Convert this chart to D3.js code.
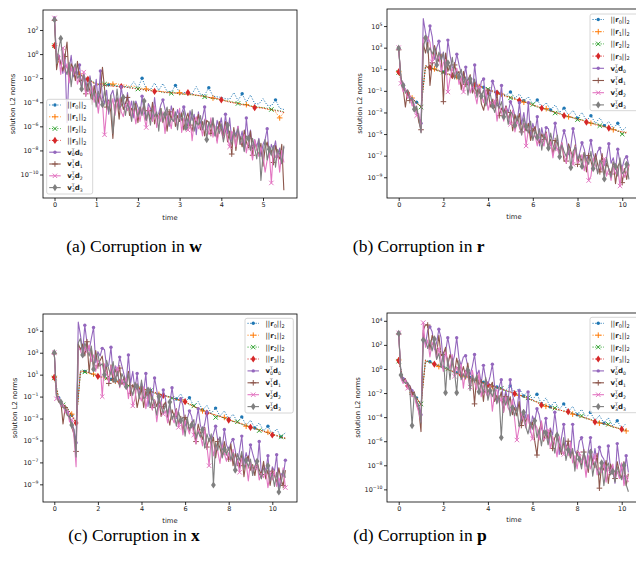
<!DOCTYPE html>
<html><head><meta charset="utf-8">
<script src="https://cdn.jsdelivr.net/npm/d3@7"></script>
<style>body{margin:0;background:#fff}svg{display:block}text{white-space:pre}</style>
</head><body>
<svg id="chart" width="636" height="565"></svg>
<script>
// ===== DATA (values are log10 of the L2 norm) =====
const captions = [["(a) Corruption in ", "w"], ["(b) Corruption in ", "r"], ["(c) Corruption in ", "x"], ["(d) Corruption in ", "p"]];
const yLabel = "solution L2 norms";
const xLabel = "time";
const seriesNames = ["r0", "r1", "r2", "r3", "v0d0", "v1d1", "v2d2", "v3d3"];

// time step of the samples in each panel (residual series / vTd series)
const a_dtR = 0.1, a_dtV = 0.05;
const b_dtR = 0.2, b_dtV = 0.1;
const c_dtR = 0.2, c_dtV = 0.1;
const d_dtR = 0.2, d_dtV = 0.1;

const a_xTicks = [0, 1, 2, 3, 4, 5];
const a_yTickExp = [2, 0, -2, -4, -6, -8, -10];
const b_xTicks = [0, 2, 4, 6, 8, 10];
const b_yTickExp = [5, 3, 1, -1, -3, -5, -7, -9];
const c_xTicks = [0, 2, 4, 6, 8, 10];
const c_yTickExp = [5, 3, 1, -1, -3, -5, -7, -9];
const d_xTicks = [0, 2, 4, 6, 8, 10];
const d_yTickExp = [4, 2, 0, -2, -4, -6, -8, -10];

// ---- panel (a): corruption in w ----
const a_r0 = [0.7,-0.5,-0.9,-1.1,-1.3,-1.5,-1.7,-1.9,-2.1,-2.3,-2.5,-2.5,-2.6,-2.55,-2.6,-2.65,-2.7,-2.7,-2.75,-2.3,-2.8,-2.0,-2.9,-2.95,-2.4,-3.0,-2.45,-3.1,-3.15,-2.6,-3.2,-3.2,-3.25,-3.3,-2.7,-3.35,-3.4,-2.8,-3.5,-3.55,-3.6,-3.7,-3.75,-3.2,-3.85,-3.3,-4.0,-3.4,-4.1,-4.15,-3.7,-4.25,-4.3,-3.8,-4.5,-4.6];
const a_r1 = [0.7,-0.7,-0.85,-1.15,-1.25,-1.55,-1.65,-1.95,-2.15,-2.3,-2.5,-2.45,-2.45,-2.4,-2.5,-2.45,-2.6,-2.55,-2.7,-2.65,-2.8,-2.85,-2.9,-2.95,-3.0,-3.1,-3.1,-3.15,-3.2,-3.25,-3.2,-3.35,-3.35,-3.4,-3.4,-3.5,-3.5,-3.6,-3.65,-3.7,-3.8,-3.9,-3.9,-4.05,-4.05,-4.2,-4.2,-4.35,-4.35,-4.45,-4.45,-4.6,-4.6,-4.8,-5.3,-4.85];
const a_r2 = [0.7,-0.5,-0.9,-1.05,-1.35,-1.45,-1.75,-1.85,-2.05,-2.25,-2.45,-2.55,-2.5,-2.6,-2.55,-2.65,-2.75,-2.7,-2.8,-2.8,-2.9,-2.9,-3.05,-3.0,-3.1,-3.05,-3.2,-3.2,-3.25,-3.2,-3.35,-3.3,-3.4,-3.35,-3.45,-3.45,-3.55,-3.6,-3.7,-3.75,-3.8,-3.85,-3.95,-4.0,-4.1,-4.15,-4.2,-4.3,-4.35,-4.4,-4.45,-4.5,-4.6,-4.65,-4.7,-4.8];
const a_r3 = [0.7,-0.6,-0.8,-1.1,-1.3,-1.5,-1.7,-1.9,-2.1,-2.3,-2.6,-2.5,-2.6,-2.65,-2.65,-2.7,-2.7,-2.75,-2.8,-2.85,-2.9,-2.95,-3.0,-3.05,-3.1,-3.1,-3.15,-3.2,-3.2,-3.25,-3.3,-3.3,-3.2,-3.35,-3.4,-3.45,-3.5,-3.6,-3.65,-3.7,-3.8,-3.9,-4.0,-4.05,-4.1,-4.2,-4.25,-4.3,-4.45,-4.45,-4.5,-4.55,-4.6,-4.7,-4.75,-4.85];
const a_v0 = [3.0,-0.6,-0.2,-0.7,-1.6,0.0,-5.7,-1.3,-0.1,-1.9,-1.0,-1.7,-0.9,-3.0,-1.6,-2.2,-3.1,-1.8,-2.9,-3.5,-2.1,-4.1,-1.4,-3.6,-4.1,-3.0,-5.0,-3.4,-3.0,-4.0,-3.6,-4.6,-2.7,-4.0,-4.4,-3.2,-4.7,-3.9,-5.3,-3.9,-4.4,-5.0,-3.5,-4.8,-5.5,-4.1,-4.5,-5.4,-3.6,-5.2,-4.9,-4.2,-3.8,-4.6,-5.1,-6.0,-4.3,-5.0,-5.5,-4.6,-5.3,-4.9,-4.4,-5.1,-6.1,-4.7,-5.5,-5.0,-6.7,-4.8,-5.8,-5.3,-4.4,-6.3,-5.7,-6.0,-5.3,-6.8,-5.5,-6.1,-5.3,-6.7,-5.0,-6.6,-5.3,-7.2,-6.3,-6.7,-6.0,-7.1,-6.4,-8.0,-5.3,-7.1,-6.3,-7.9,-7.1,-7.7,-7.0,-8.5,-7.5,-7.1,-6.2,-8.6,-7.5,-8.0,-7.2,-8.6,-7.8,-9.1,-7.7];
const a_v1 = [2.8,-1.3,-0.2,-0.8,-1.4,-0.2,1.0,-2.1,-0.8,-1.2,-2.2,-0.6,-2.3,-2.2,-1.7,-3.3,-2.4,-3.1,-4.2,-2.6,-3.4,-4.0,-3.2,-1.1,-2.9,-4.4,-3.8,-4.8,-7.0,-4.2,-3.7,-5.4,-3.6,-4.6,-4.1,-3.6,-5.1,-4.5,-4.9,-4.1,-5.7,-4.4,-4.9,-4.1,-5.5,-4.7,-5.4,-4.0,-5.8,-5.0,-5.3,-4.5,-5.7,-4.9,-6.4,-4.8,-5.4,-4.5,-6.0,-5.1,-5.6,-4.9,-6.3,-5.4,-4.9,-5.9,-6.4,-5.3,-5.8,-5.0,-6.3,-5.6,-6.8,-5.5,-5.7,-6.6,-5.6,-6.3,-7.2,-5.6,-6.2,-6.8,-5.6,-7.3,-6.4,-8.3,-6.1,-8.0,-6.5,-6.9,-7.7,-6.3,-7.3,-7.8,-6.4,-8.4,-7.3,-7.9,-8.4,-7.4,-9.3,-7.8,-7.3,-8.4,-8.0,-9.0,-7.6,-8.4,-8.7,-7.5,-11.3];
const a_v2 = [3.0,-0.3,0.0,-1.7,0.5,-1.5,-0.8,-2.4,-1.1,-1.7,-1.0,-2.5,-1.9,-2.7,-1.5,-3.5,-2.8,-3.3,-2.7,-4.0,-3.3,-4.9,-3.4,-4.0,-6.7,-4.7,-3.9,-4.4,-3.7,-5.1,-4.1,-3.7,-4.8,-5.2,-4.2,-4.7,-3.9,-5.3,-4.6,-5.8,-4.6,-5.6,-4.5,-5.2,-6.1,-4.4,-5.1,-5.6,-4.3,-6.1,-5.1,-5.6,-4.8,-6.6,-5.0,-5.4,-6.2,-4.7,-5.6,-6.0,-4.5,-6.5,-5.3,-5.9,-6.3,-5.2,-7.2,-5.6,-5.2,-6.2,-5.8,-6.8,-5.4,-6.2,-6.6,-5.3,-6.9,-6.0,-7.4,-6.1,-6.5,-7.1,-5.9,-7.0,-7.7,-6.4,-6.7,-7.7,-6.0,-7.5,-7.3,-6.7,-8.2,-7.2,-7.8,-8.8,-7.1,-7.9,-8.5,-7.7,-8.4,-9.8,-8.8,-8.2,-10.7,-7.9,-8.6,-8.2,-9.8,-8.0,-9.0];
const a_v3 = [2.85,-0.8,0.4,1.3,-0.6,-1.2,-1.7,-0.7,-2.7,-1.2,-0.8,-2.0,-1.8,-2.9,-1.7,-2.6,-3.1,-2.0,-3.7,-3.0,-4.4,-3.1,-3.6,-4.2,-3.0,-4.1,-4.8,-3.4,-6.6,-4.7,-2.9,-4.5,-4.3,-3.6,-5.1,-4.1,-4.6,-5.6,-3.9,-4.6,-5.2,-4.4,-5.1,-3.9,-5.5,-4.8,-5.9,-4.5,-5.2,-4.8,-6.4,-4.5,-5.6,-5.0,-4.4,-5.9,-5.3,-5.6,-4.8,-6.3,-4.9,-5.5,-4.7,-6.1,-5.3,-5.9,-4.6,-6.4,-5.6,-5.9,-5.1,-6.3,-5.5,-7.1,-5.6,-6.1,-5.3,-6.8,-6.0,-6.6,-5.8,-7.3,-6.4,-5.9,-7.0,-7.5,-6.4,-6.9,-6.2,-7.5,-6.8,-8.1,-6.8,-7.0,-8.0,-7.0,-7.8,-8.7,-7.1,-10.5,-8.3,-7.1,-8.8,-7.9,-8.4,-7.6,-9.4,-7.9,-8.3,-9.1,-7.6];

// ---- panel (b): corruption in r ----
const b_r0 = [0.75,-0.5,-1.15,-1.7,-2.05,-2.45,1.35,1.18,1.04,0.9,0.74,0.6,0.48,0.3,0.1,-0.05,-0.22,-0.3,-0.46,-0.66,-0.8,-0.96,-1.1,-1.22,-1.4,-1.1,-1.66,-1.3,-1.92,-1.55,-2.22,-1.85,-2.52,-2.1,-2.77,-2.3,-3.0,-2.6,-3.26,-2.8,-3.52,-3.0,-3.77,-3.3,-4.0,-3.5,-4.22,-3.85,-4.46,-4.0,-4.7,-4.3];
const b_r1 = [0.78,-0.7,-1.26,-1.66,-2.15,-2.46,1.34,1.08,1.04,0.9,0.65,0.6,0.34,0.3,0.0,-0.05,-0.3,-0.35,-0.6,-0.7,-0.92,-1.0,-1.26,-1.3,-1.55,-1.55,-1.8,-1.85,-2.05,-2.1,-2.35,-2.4,-2.65,-2.65,-2.9,-2.96,-3.15,-3.22,-3.4,-3.46,-3.66,-3.74,-3.82,-4.0,-4.15,-4.19,-4.35,-4.4,-4.6,-4.66,-4.82,-4.82];
const b_r2 = [0.7,-0.5,-1.15,-1.75,-2.05,-2.5,1.2,1.18,1.0,0.8,0.74,0.48,0.45,0.18,0.08,-0.15,-0.22,-0.45,-0.52,-0.8,-0.85,-1.1,-1.15,-1.4,-1.45,-1.65,-1.7,-1.92,-1.96,-2.19,-2.26,-2.52,-2.55,-2.75,-2.82,-3.05,-3.05,-3.26,-3.4,-3.5,-3.66,-3.66,-3.85,-4.0,-4.05,-4.22,-4.26,-4.5,-4.52,-4.7,-5.0,-4.85];
const b_r3 = [0.75,-0.6,-1.2,-1.7,-2.1,-2.5,1.25,1.15,0.95,0.85,0.7,0.55,0.4,0.25,0.05,-0.1,-0.25,-0.4,-0.55,-0.75,-0.9,-1.05,-1.2,-1.35,-1.5,-1.6,-1.75,-1.9,-2.0,-2.15,-2.3,-2.45,-2.6,-2.7,-2.85,-3.0,-3.1,-3.3,-3.35,-3.5,-3.6,-3.7,-3.9,-3.95,-4.1,-4.2,-4.3,-4.45,-4.55,-4.75,-4.8,-4.9];
const b_v0 = [2.9,0.1,-0.4,-0.9,-1.1,-1.5,-1.8,-2.3,-3.1,-3.4,-4.0,5.7,4.4,3.4,5.0,4.0,1.9,3.0,3.6,1.7,2.6,0.5,3.7,2.3,1.1,1.3,2.4,1.4,0.6,0.1,1.2,-0.5,0.3,-1.2,1.4,-0.6,-1.2,-0.1,0.1,-2.1,-0.9,-1.4,-0.1,-0.8,-2.4,-2.3,-0.5,-3.3,-2.4,-3.0,-2.0,-2.5,-3.3,-4.0,-2.1,-4.1,-3.0,-4.7,-2.1,-5.3,-4.0,-4.8,-3.4,-6.1,-4.4,-5.5,-4.4,-4.5,-6.1,-5.6,-4.0,-5.3,-6.9,-5.6,-4.7,-5.5,-6.9,-6.2,-4.5,-5.6,-7.5,-6.7,-5.8,-6.4,-7.5,-6.8,-5.6,-6.9,-7.4,-6.6,-6.3,-7.3,-7.9,-7.2,-5.9,-7.7,-7.2,-8.3,-6.4,-7.7,-8.1,-7.3,-7.1,-7.9];
const b_v1 = [2.8,0.3,-0.8,-2.5,-1.0,-1.9,-1.7,-2.9,-2.6,-3.9,-4.6,3.4,2.5,3.5,-0.5,1.6,3.2,2.4,1.7,2.4,-2.0,2.5,0.8,1.4,0.2,1.4,0.5,0.8,-0.9,0.8,-0.4,0.0,0.5,-1.2,-0.7,-1.2,-0.5,-2.2,-2.8,-1.6,-1.0,-2.5,-1.8,-2.6,-1.3,-3.3,-2.6,-3.0,-2.4,-3.6,-3.0,-4.7,-3.2,-3.9,-3.1,-4.8,-4.0,-4.7,-4.0,-5.6,-4.7,-4.3,-5.4,-5.9,-5.0,-5.5,-4.8,-6.2,-5.5,-6.9,-5.6,-5.8,-6.8,-5.8,-7.5,-7.5,-5.9,-6.6,-7.2,-6.0,-7.8,-6.9,-7.5,-6.7,-8.5,-7.0,-7.5,-8.3,-6.8,-7.8,-8.5,-6.8,-8.8,-7.7,-8.2,-8.7,-7.6,-9.6,-8.0,-7.6,-9.5,-8.2,-9.2,-7.8];
const b_v2 = [3.0,-0.3,-1.1,-0.8,-1.7,-1.4,-2.4,-2.2,-3.3,-3.1,-4.8,3.9,4.0,4.0,3.5,1.7,2.4,1.8,2.4,0.8,1.6,1.9,-1.1,0.2,1.1,0.5,1.1,-0.4,0.3,-1.1,0.1,-0.2,-1.2,-0.3,-1.2,-2.2,-0.6,-1.4,-2.1,-0.9,-2.8,-2.0,-2.6,-1.9,-3.8,-2.4,-3.0,-3.8,-2.5,-3.5,-4.1,-2.8,-4.8,-3.8,-4.4,-5.0,-4.0,-6.1,-4.6,-4.3,-5.4,-5.1,-6.1,-4.8,-5.7,-6.1,-4.9,-6.5,-5.7,-7.2,-5.9,-6.4,-7.0,-5.8,-7.0,-7.7,-6.4,-6.8,-7.8,-6.1,-7.7,-7.5,-6.9,-8.4,-7.3,-9.3,-8.9,-7.2,-7.9,-8.5,-7.7,-8.4,-7.3,-8.9,-8.2,-9.3,-7.9,-8.7,-8.2,-9.8,-8.0,-9.0,-8.5,-7.9];
const b_v3 = [2.95,0.2,-0.5,-1.2,-0.9,-1.8,-1.6,-2.7,-2.4,-3.5,-4.9,3.0,3.9,2.5,3.0,2.4,3.0,1.4,2.6,1.9,2.5,1.0,1.6,0.9,2.1,0.1,0.8,0.3,1.0,-0.3,0.3,-1.4,0.1,-0.6,0.1,-1.6,-0.8,-1.5,-0.9,-2.4,-1.6,-1.3,-2.4,-3.0,-2.0,-2.6,-2.0,-3.4,-2.8,-4.1,-2.9,-3.2,-4.2,-3.3,-4.1,-5.1,-3.5,-4.3,-4.9,-3.8,-5.6,-4.7,-5.3,-4.5,-6.5,-5.0,-5.5,-6.3,-4.9,-6.0,-6.5,-5.1,-7.1,-6.0,-6.6,-7.1,-6.1,-8.1,-6.6,-6.2,-7.3,-7.0,-8.0,-6.7,-7.4,-7.8,-6.6,-8.2,-7.3,-8.7,-7.4,-7.8,-9.15,-7.2,-8.3,-9.0,-7.6,-8.0,-8.9,-7.2,-8.7,-8.4,-7.8,-9.2];

// ---- panel (c): corruption in x ----
const c_r0 = [0.75,-1.1,-1.7,-2.05,-2.7,-3.35,1.35,1.3,1.22,1.02,0.88,0.78,0.68,0.58,0.48,0.33,0.23,0.08,-0.02,-0.17,-0.27,-0.37,-0.47,-0.62,-0.72,-0.87,-0.97,-1.07,-1.22,-0.75,-1.47,-1.1,-1.87,-1.45,-2.22,-1.8,-2.52,-2.05,-2.77,-2.3,-3.07,-2.6,-3.32,-2.85,-3.62,-3.15,-3.87,-3.4,-4.12,-3.7,-4.42,-3.95,-4.67,-4.3];
const c_r1 = [0.8,-1.3,-1.65,-2.2,-2.6,-3.5,1.35,1.28,1.1,1.05,0.8,0.8,0.6,0.6,0.4,0.35,0.15,0.1,-0.1,-0.15,-0.35,-0.35,-0.55,-0.6,-0.8,-0.85,-1.05,-1.05,-1.3,-1.3,-1.55,-1.65,-1.95,-2.0,-2.3,-2.35,-2.6,-2.65,-2.85,-2.9,-3.15,-3.2,-3.4,-3.45,-3.7,-3.75,-3.95,-4.0,-4.2,-4.25,-4.5,-4.5,-4.75,-4.8];
const c_r2 = [0.7,-1.1,-1.75,-2.0,-2.8,-3.3,1.2,1.25,1.2,0.95,0.9,0.7,0.68,0.5,0.48,0.25,0.24,0.0,-0.02,-0.25,-0.26,-0.45,-0.46,-0.7,-0.72,-0.95,-0.96,-1.15,-1.2,-1.4,-1.45,-1.75,-1.85,-2.1,-2.2,-2.45,-2.5,-2.9,-2.78,-3.0,-3.05,-3.3,-3.3,-3.55,-3.6,-3.85,-3.85,-4.1,-4.1,-4.35,-4.4,-4.6,-4.65,-4.85];
const c_r3 = [0.75,-1.2,-1.7,-2.1,-2.7,-3.4,1.25,1.33,1.15,1.0,0.85,0.75,0.62,0.55,0.42,0.3,0.2,0.05,-0.05,-0.2,-0.3,-0.4,-0.5,-0.65,-0.75,-0.9,-1.0,-1.1,-1.25,-1.35,-1.46,-1.7,-1.9,-2.05,-2.25,-2.5,-2.55,-2.7,-2.8,-2.95,-3.14,-3.25,-3.35,-3.5,-3.65,-3.8,-3.9,-4.05,-4.15,-4.3,-4.5,-4.55,-4.7,-4.78];
const c_v0 = [3.0,-0.8,-1.2,-1.4,-1.8,-2.0,-2.4,-2.8,-3.3,-4.0,-5.2,5.8,4.6,3.1,5.5,3.9,3.2,4.3,5.3,2.1,3.1,2.7,3.4,3.3,1.7,1.9,3.5,0.9,1.8,1.2,2.6,1.8,1.0,0.3,2.8,0.2,1.3,-0.4,1.1,-1.0,0.3,-0.6,1.1,-1.9,-0.2,-1.3,0.7,-0.4,-2.0,-1.5,-0.4,-1.2,-2.9,-1.6,-0.2,-1.6,-3.0,-2.3,-1.2,-1.8,-3.7,-3.0,-2.3,-2.8,-4.0,-3.4,-2.1,-3.6,-4.2,-3.5,-2.4,-4.4,-5.0,-4.4,-3.7,-5.0,-4.7,-5.8,-4.0,-5.4,-5.9,-5.2,-4.9,-5.9,-7.2,-5.9,-4.6,-7.1,-6.1,-6.9,-5.4,-6.2,-6.9,-7.5,-5.1,-8.1,-7.2,-7.8,-6.4,-8.9,-7.4,-7.8,-6.3,-9.6,-8.0,-8.3,-6.8];
const c_v1 = [2.9,-0.9,-1.5,-1.4,-3.5,-2.0,-2.7,-2.8,-3.8,-4.4,-6.0,3.8,3.3,3.8,2.7,4.0,1.2,3.4,1.6,3.2,1.8,2.3,2.7,1.1,1.7,0.2,1.9,0.3,1.5,0.9,1.6,0.1,0.8,0.0,1.3,-0.7,0.1,-0.4,-2.0,-1.0,-0.3,-2.0,-0.5,-1.1,-0.4,-2.0,-1.3,-1.9,-1.2,-2.8,-1.9,-1.5,-2.7,-3.6,-2.2,-2.8,-2.1,-3.5,-2.8,-4.2,-2.9,-3.2,-4.2,-3.3,-4.1,-5.1,-3.5,-4.3,-4.9,-3.8,-5.6,-4.8,-5.4,-4.7,-6.6,-5.1,-5.7,-6.5,-5.1,-6.2,-6.7,-5.3,-7.3,-6.2,-6.8,-7.3,-6.3,-8.3,-6.8,-6.4,-7.5,-7.2,-8.2,-6.9,-7.7,-8.1,-6.9,-8.5,-7.7,-9.1,-7.8,-8.2,-8.8,-7.5,-8.6,-9.1,-7.7];
const c_v2 = [3.0,-1.2,-1.1,-1.9,-1.7,-2.5,-2.3,-3.3,-3.1,-4.6,-7.4,3.5,3.2,2.6,3.6,3.1,3.7,2.2,2.8,1.3,2.3,2.1,-1.0,2.0,1.2,0.3,1.8,1.1,0.4,1.6,-0.2,0.6,0.0,0.7,-1.2,0.2,-1.85,-1.2,0.2,-0.9,-1.4,-0.1,-2.1,-1.0,-1.7,-2.2,-1.3,-3.3,-1.8,-1.5,-2.6,-2.3,-3.4,-2.1,-2.9,-3.4,-2.2,-3.8,-3.0,-4.5,-3.2,-3.8,-4.4,-3.3,-4.5,-5.3,-4.0,-4.5,-5.5,-3.9,-5.5,-7.3,-4.8,-6.4,-5.4,-6.0,-7.1,-5.4,-6.2,-6.9,-6.1,-6.9,-5.8,-7.4,-6.8,-7.9,-6.6,-7.4,-7.0,-8.7,-6.9,-8.0,-7.5,-7.0,-8.6,-8.0,-8.4,-7.7,-9.3,-8.0,-8.6,-7.8,-9.2,-8.4,-9.0,-7.5,-9.3];
const c_v3 = [3.0,-0.9,-1.4,-1.5,-2.0,-2.1,-2.7,-2.9,-3.6,-4.0,-6.5,3.9,4.3,2.8,3.9,3.3,2.7,3.6,1.5,2.8,2.9,1.8,2.0,1.0,2.3,1.5,1.0,2.2,0.5,1.3,-0.1,1.1,0.6,-0.1,1.1,-0.2,-0.9,0.3,-0.1,-1.2,0.5,-1.2,-1.0,-0.4,-2.0,-1.0,-1.7,-2.7,-1.0,-1.9,-2.5,-1.7,-2.6,-1.5,-3.1,-2.6,-3.7,-2.4,-3.2,-2.9,-4.6,-2.9,-4.0,-3.6,-3.1,-4.8,-4.2,-4.7,-4.0,-5.7,-4.4,-5.1,-4.4,-9.06,-5.2,-5.9,-4.7,-6.6,-5.8,-6.3,-5.6,-6.8,-6.1,-7.7,-6.2,-6.8,-6.0,-7.6,-6.8,-7.4,-6.7,-8.2,-7.3,-6.9,-8.0,-8.5,-7.5,-8.0,-7.3,-8.7,-8.0,-9.2,-7.9,-9.7,-8.9,-7.7,-8.4];

// ---- panel (d): corruption in p ----
const d_r0 = [0.7,-0.85,-1.4,-1.85,-2.4,-2.95,0.75,0.6,0.45,0.3,0.15,0.0,-0.15,-0.3,-0.45,-0.55,-0.7,-0.85,-0.95,-1.1,-1.25,-1.35,-1.5,-1.6,-1.75,-1.4,-2.0,-1.6,-2.25,-1.85,-2.55,-2.1,-2.9,-2.4,-3.15,-2.7,-3.35,-2.9,-3.55,-3.1,-3.8,-3.35,-4.05,-3.6,-4.3,-3.85,-4.5,-4.05,-4.75,-4.3,-4.95,-4.5];
const d_r1 = [0.75,-1.0,-1.35,-1.95,-2.35,-3.05,0.75,0.5,0.45,0.2,0.15,-0.1,-0.15,-0.4,-0.45,-0.65,-0.7,-0.95,-0.95,-1.2,-1.25,-1.45,-1.5,-1.7,-1.75,-1.95,-2.0,-2.2,-2.25,-2.5,-2.55,-2.8,-2.9,-3.1,-3.15,-3.35,-3.35,-3.55,-3.55,-3.75,-3.8,-4.0,-4.05,-4.25,-4.3,-4.5,-4.5,-4.7,-4.75,-4.95,-4.95,-5.15];
const d_r2 = [0.65,-0.8,-1.45,-1.85,-2.45,-2.9,0.6,0.6,0.35,0.3,0.05,0.0,-0.25,-0.3,-0.55,-0.55,-0.8,-0.85,-1.05,-1.1,-1.35,-1.35,-1.6,-1.6,-1.85,-1.85,-2.1,-2.1,-2.35,-2.4,-2.65,-2.7,-2.9,-3.0,-3.25,-3.25,-3.45,-3.45,-3.65,-3.65,-3.9,-3.9,-4.15,-4.15,-4.4,-4.4,-4.6,-4.6,-4.85,-4.85,-5.1,-5.05];
const d_r3 = [0.7,-0.9,-1.4,-1.9,-2.4,-3.0,0.7,0.55,0.4,0.25,0.1,-0.05,-0.2,-0.35,-0.5,-0.6,-0.75,-0.9,-1.0,-1.15,-1.3,-1.4,-1.55,-1.65,-1.8,-1.9,-2.05,-2.15,-2.3,-2.45,-2.6,-2.75,-3.0,-3.05,-3.2,-3.3,-3.4,-3.5,-3.55,-3.7,-3.85,-3.95,-4.1,-4.2,-4.4,-4.45,-4.55,-4.65,-4.8,-4.9,-5.0,-5.1];
const d_v0 = [3.0,-0.4,-0.8,-0.9,-1.2,-1.4,-1.8,-2.1,-2.7,-3.0,-3.8,3.0,2.0,3.2,3.5,3.1,1.6,2.2,3.3,2.6,0.6,1.4,2.6,1.6,0.4,1.1,2.6,0.9,0.3,1.0,1.1,0.2,-0.5,0.2,1.2,-0.5,-0.1,-1.2,0.3,-0.8,-1.3,-0.6,0.4,-1.4,-2.8,-1.5,-0.9,-2.8,-1.8,-2.7,-0.9,-2.1,-2.9,-3.5,-1.8,-4.3,-3.4,-4.1,-1.9,-5.3,-3.9,-4.4,-3.3,-3.8,-4.9,-5.4,-4.1,-6.0,-4.9,-5.5,-3.6,-5.1,-7.1,-5.7,-4.6,-6.5,-6.2,-7.2,-4.6,-6.8,-7.2,-6.0,-5.7,-6.7,-8.1,-6.8,-5.7,-7.9,-6.6,-7.8,-6.5,-7.2,-7.5,-8.5,-6.4,-8.3,-8.1,-9.5,-6.2,-7.8,-8.4,-9.4,-7.2,-8.6];
const d_v1 = [2.9,-0.5,-1.0,-0.8,-1.5,-1.4,-2.1,-1.9,-2.9,-3.4,-5.2,3.2,3.7,3.65,1.6,2.8,2.3,1.2,2.8,1.1,1.2,1.8,0.3,1.2,0.6,-0.4,0.9,0.1,-0.5,0.2,-0.6,0.5,-1.2,-0.6,-2.9,-0.5,-1.3,-0.9,-2.7,-0.9,-2.0,-1.5,-1.1,-2.7,-2.2,-2.6,-1.9,-3.6,-2.3,-3.0,-2.3,-3.8,-3.2,-3.9,-2.7,-4.7,-3.9,-4.4,-3.8,-5.0,-4.4,-6.0,-7.15,-5.1,-4.4,-6.0,-5.2,-5.8,-5.1,-6.6,-5.7,-5.4,-6.5,-7.1,-6.1,-6.7,-6.0,-7.4,-6.8,-8.1,-6.8,-7.0,-8.0,-6.9,-7.7,-8.6,-7.0,-7.7,-8.2,-7.0,-9.9,-7.9,-8.4,-7.6,-9.5,-7.9,-8.4,-9.1,-7.7,-8.6,-9.1,-7.7,-9.7,-8.7];
const d_v2 = [3.0,-0.8,-1.2,-0.9,-1.6,-1.7,-2.3,-2.2,-3.0,-3.6,-4.4,3.85,1.8,2.4,1.0,2.2,1.9,0.8,1.7,0.8,-0.2,1.4,0.7,0.0,1.2,-0.6,0.2,-0.4,0.4,-1.6,-0.1,-0.6,-1.5,-0.1,-1.1,-1.7,-0.3,-2.3,-1.3,-1.9,-2.4,-1.4,-3.5,-2.0,-1.7,-2.8,-2.5,-3.6,-2.3,-3.2,-3.6,-2.5,-4.2,-5.9,-4.9,-3.7,-4.2,-4.9,-3.8,-5.0,-5.8,-4.5,-4.9,-5.9,-4.3,-5.9,-5.7,-5.1,-6.6,-5.6,-6.2,-7.3,-5.6,-6.5,-7.1,-6.4,-7.2,-6.1,-7.8,-7.2,-8.3,-7.0,-7.8,-7.3,-9.0,-7.2,-8.3,-7.8,-7.2,-8.8,-8.2,-8.6,-7.8,-9.4,-8.1,-8.6,-7.9,-9.2,-8.5,-9.1,-7.8,-9.7,-8.9,-9.4];
const d_v3 = [2.95,-0.5,-1.0,-1.2,-1.1,-1.8,-4.7,-2.0,-2.6,-3.1,-4.5,2.4,2.4,1.7,2.4,1.5,2.5,0.8,1.3,0.1,1.3,-1.97,0.9,-0.9,0.9,-0.2,-1.97,0.7,-0.9,-0.4,-0.8,-0.1,-1.8,-0.5,-1.1,-0.5,-1.9,-1.2,-2.0,-0.7,-2.6,-1.8,-2.3,-1.6,-2.9,-2.2,-5.7,-2.4,-3.0,-2.3,-3.9,-3.2,-3.9,-3.2,-4.8,-4.0,-3.6,-4.8,-5.4,-4.4,-5.0,-4.3,-5.7,-5.0,-6.4,-5.1,-5.3,-6.3,-5.3,-6.1,-7.0,-5.5,-6.2,-6.9,-5.7,-7.6,-6.7,-7.3,-6.6,-8.5,-7.0,-7.5,-8.3,-6.8,-7.8,-8.3,-6.9,-8.9,-7.7,-8.3,-8.8,-7.8,-9.7,-8.2,-7.8,-8.8,-8.5,-9.4,-8.1,-8.8,-9.2,-8.0,-9.6,-10.2];

// ===== STYLE / LAYOUT =====
const COLORS = ["#1f77b4", "#ff7f0e", "#2ca02c", "#d62728", "#9467bd", "#8c564b", "#e377c2", "#7f7f7f"];
const MARKS = ["dot", "plus", "x", "diamond", "dot", "plus", "x", "diamond"];
const FONT = "DejaVu Sans";

const panels = [
  { id: "a", r: [a_r0, a_r1, a_r2, a_r3], v: [a_v0, a_v1, a_v2, a_v3], dtR: a_dtR, dtV: a_dtV,
    xTicks: a_xTicks, yTicks: a_yTickExp, cap: captions[0],
    box: { l: 43, t: 10, r: 297, b: 198 }, xLim: [-0.276, 5.815], yLim: [-11.95, 3.66],
    legend: { x: 46.7, y: 99.3, w: 46, h: 94.7, first: 105, step: 11.8 },
    ylabX: 12.7, timeY: 219.5, capX: 134, capY: 252,
    mk: { r: [[8, 5], [8, 6], [8, 4], [8, 0]], v: [[10, 2], [10, 5], [10, 4], [10, 3]] } },
  { id: "b", r: [b_r0, b_r1, b_r2, b_r3], v: [b_v0, b_v1, b_v2, b_v3], dtR: b_dtR, dtV: b_dtV,
    xTicks: b_xTicks, yTicks: b_yTickExp, cap: captions[1],
    box: { l: 387, t: 9, r: 641, b: 198 }, xLim: [-0.523, 10.84], yLim: [-10.92, 6.58],
    legend: { x: 590, y: 14, w: 52, h: 96.7, first: 19.5, step: 12.2 },
    ylabX: 359.3, timeY: 219, capX: 418.7, capY: 252,
    mk: { r: [[3, 1], [5, 3], [5, 0], [5, 2]], v: [[4, 2], [5, 0], [7, 1], [5, 2]] } },
  { id: "c", r: [c_r0, c_r1, c_r2, c_r3], v: [c_v0, c_v1, c_v2, c_v3], dtR: c_dtR, dtV: c_dtV,
    xTicks: c_xTicks, yTicks: c_yTickExp, cap: captions[2],
    box: { l: 43, t: 314, r: 297, b: 502 }, xLim: [-0.518, 11.133], yLim: [-10.61, 6.53],
    legend: { x: 245, y: 318.3, w: 48.3, h: 94.7, first: 323.3, step: 11.9 },
    ylabX: 15, timeY: 523, capX: 134, capY: 541,
    mk: { r: [[3, 1], [5, 4], [5, 2], [5, 0]], v: [[4, 2], [5, 0], [7, 1], [5, 3]] } },
  { id: "d", r: [d_r0, d_r1, d_r2, d_r3], v: [d_v0, d_v1, d_v2, d_v3], dtR: d_dtR, dtV: d_dtV,
    xTicks: d_xTicks, yTicks: d_yTickExp, cap: captions[3],
    box: { l: 387, t: 313, r: 641, b: 502 }, xLim: [-0.525, 10.865], yLim: [-11.05, 4.65],
    legend: { x: 590, y: 317.3, w: 52, h: 95.4, first: 323.3, step: 11.9 },
    ylabX: 357.5, timeY: 522, capX: 420, capY: 541,
    mk: { r: [[3, 1], [6, 3], [6, 5], [6, 2]], v: [[4, 2], [7, 6], [7, 4], [5, 1]] } }
];

const svg = d3.select("#chart");
svg.append("rect").attr("width", 636).attr("height", 565).attr("fill", "#fff");

function drawMarker(g, type, color, cx, cy) {
  if (type === "dot") {
    g.append("circle").attr("cx", cx).attr("cy", cy).attr("r", 1.7).attr("fill", color);
  } else if (type === "plus") {
    g.append("path").attr("d", `M${cx - 2.8},${cy}H${cx + 2.8}M${cx},${cy - 2.8}V${cy + 2.8}`)
      .attr("stroke", color).attr("stroke-width", 1).attr("fill", "none");
  } else if (type === "x") {
    g.append("path").attr("d", `M${cx - 2.2},${cy - 2.2}L${cx + 2.2},${cy + 2.2}M${cx - 2.2},${cy + 2.2}L${cx + 2.2},${cy - 2.2}`)
      .attr("stroke", color).attr("stroke-width", 1).attr("fill", "none");
  } else {
    g.append("path").attr("d", `M${cx},${cy - 3.6}L${cx + 2.4},${cy}L${cx},${cy + 3.6}L${cx - 2.4},${cy}Z`)
      .attr("fill", color);
  }
}

function legendLabel(text, i) {
  if (i < 4) {
    text.append("tspan").text("||");
    text.append("tspan").attr("font-weight", "bold").text("r");
    text.append("tspan").attr("font-size", 5).attr("dy", 1.8).text(String(i));
    text.append("tspan").attr("dy", -1.8).text("||");
    text.append("tspan").attr("font-size", 5).attr("dy", 1.8).text("2");
  } else {
    const k = String(i - 4);
    text.append("tspan").attr("font-weight", "bold").text("v");
    text.append("tspan").attr("font-size", 4.6).attr("dy", -3).text("T");
    text.append("tspan").attr("font-size", 4.6).attr("dx", -2.8).attr("dy", 4.8).text(k);
    text.append("tspan").attr("font-weight", "bold").attr("dy", -1.8).text("d");
    text.append("tspan").attr("font-size", 4.6).attr("dy", 1.8).text(k);
  }
}

panels.forEach(p => {
  const B = p.box;
  const x = d3.scaleLinear().domain(p.xLim).range([B.l, B.r]);
  const y = d3.scaleLog().domain([Math.pow(10, p.yLim[0]), Math.pow(10, p.yLim[1])]).range([B.b, B.t]);

  const clipId = "clip-" + p.id;
  svg.append("clipPath").attr("id", clipId).append("rect")
    .attr("x", B.l).attr("y", B.t).attr("width", B.r - B.l).attr("height", B.b - B.t);
  const plot = svg.append("g").attr("clip-path", `url(#${clipId})`);

  const series = [
    ...p.r.map((vals, k) => ({ vals, dt: p.dtR, k, mk: p.mk.r[k] })),
    ...p.v.map((vals, k) => ({ vals, dt: p.dtV, k: k + 4, mk: p.mk.v[k] }))
  ];
  series.forEach(s => {
    const line = d3.line().x((d, i) => x(i * s.dt)).y(d => y(Math.pow(10, d)));
    plot.append("path").datum(s.vals).attr("d", line)
      .attr("fill", "none").attr("stroke", COLORS[s.k])
      .attr("stroke-width", s.k < 4 ? 1.0 : 1.1)
      .attr("stroke-dasharray", s.k < 4 ? "1.1,1.6" : null)
      .attr("stroke-linejoin", "round");
    s.vals.forEach((d, i) => {
      if (i === 0 || i % s.mk[0] === s.mk[1]) drawMarker(plot, MARKS[s.k], COLORS[s.k], x(i * s.dt), y(Math.pow(10, d)));
    });
  });

  // frame
  svg.append("rect").attr("x", B.l).attr("y", B.t).attr("width", B.r - B.l).attr("height", B.b - B.t)
    .attr("fill", "none").attr("stroke", "#000").attr("stroke-width", 0.8);

  // x axis
  const gx = svg.append("g").attr("transform", `translate(0,${B.b})`)
    .call(d3.axisBottom(x).tickValues(p.xTicks).tickSize(3).tickPadding(1.5).tickFormat(d3.format("d")));
  gx.attr("font-family", FONT).attr("font-size", 6.5);
  gx.select(".domain").remove();
  gx.selectAll("line").attr("stroke", "#000").attr("stroke-width", 0.8);
  gx.selectAll("text").attr("fill", "#222");

  // y axis
  const gy = svg.append("g").attr("transform", `translate(${B.l},0)`)
    .call(d3.axisLeft(y).tickValues(p.yTicks.map(e => Math.pow(10, e))).tickSize(3).tickPadding(1.5).tickFormat(() => ""));
  gy.attr("font-family", FONT).attr("font-size", 6.5);
  gy.select(".domain").remove();
  gy.selectAll("line").attr("stroke", "#000").attr("stroke-width", 0.8);
  gy.selectAll(".tick text").each(function (d, i) {
    const e = p.yTicks[i];
    const t = d3.select(this).attr("fill", "#222");
    t.text(null);
    t.append("tspan").text("10");
    t.append("tspan").attr("font-size", 4.6).attr("dy", -2.8).text(e < 0 ? "\u2212" + (-e) : String(e));
  });

  // axis labels
  svg.append("text").attr("transform", `translate(${p.ylabX + 2.3},${(B.t + B.b) / 2}) rotate(-90)`)
    .attr("text-anchor", "middle").attr("font-family", FONT).attr("font-size", 6.8).attr("fill", "#222").text(yLabel);
  svg.append("text").attr("x", (B.l + B.r) / 2).attr("y", p.timeY)
    .attr("text-anchor", "middle").attr("font-family", FONT).attr("font-size", 6.8).attr("fill", "#222").text(xLabel);

  // legend
  const L = p.legend;
  const lg = svg.append("g");
  lg.append("rect").attr("x", L.x).attr("y", L.y).attr("width", L.w).attr("height", L.h).attr("rx", 2)
    .attr("fill", "#fff").attr("fill-opacity", 0.8).attr("stroke", "#ccc").attr("stroke-width", 0.8);
  seriesNames.forEach((name, i) => {
    const cy = L.first + i * L.step;
    lg.append("line").attr("x1", L.x + 2.5).attr("x2", L.x + 14).attr("y1", cy).attr("y2", cy)
      .attr("stroke", COLORS[i]).attr("stroke-width", i < 4 ? 1.0 : 1.1)
      .attr("stroke-dasharray", i < 4 ? "1.1,1.6" : null);
    drawMarker(lg, MARKS[i], COLORS[i], L.x + 8.25, cy);
    const t = lg.append("text").attr("x", L.x + 20.5).attr("y", cy + 2.4)
      .attr("font-family", FONT).attr("font-size", 7).attr("fill", "#222");
    legendLabel(t, i);
  });

  // caption
  const ct = svg.append("text").attr("x", p.capX).attr("y", p.capY).attr("text-anchor", "middle")
    .attr("font-family", "Liberation Serif").attr("font-size", 17.5).attr("fill", "#000");
  ct.append("tspan").text(p.cap[0]);
  ct.append("tspan").attr("font-weight", "bold").text(p.cap[1]);
});
</script>
</body></html>
